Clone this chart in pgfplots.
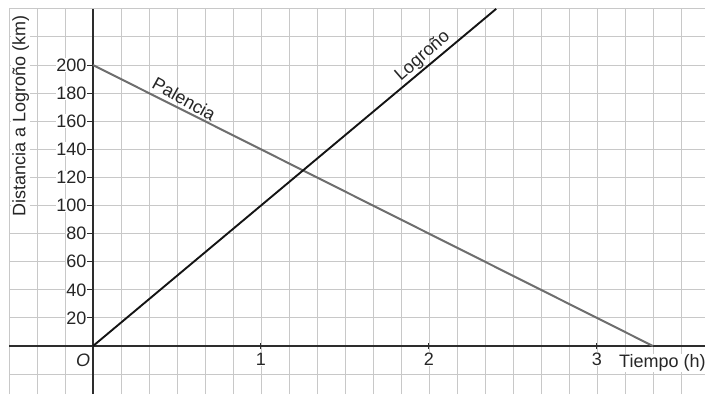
\documentclass[border=0pt]{standalone}
\usepackage{fontspec}
\setmainfont{Liberation Sans}
\usepackage{pgfplots}
\pgfplotsset{compat=1.18}
\definecolor{gridc}{RGB}{200,200,200}
\definecolor{axisc}{RGB}{45,45,45}
\definecolor{logc}{RGB}{20,20,20}
\definecolor{palc}{RGB}{110,110,110}
\newcommand{\lab}{\fontsize{18bp}{21bp}\selectfont}
\begin{document}
\begin{tikzpicture}
\begin{axis}[
    x=168bp, y=1.405bp,
    xmin=-0.5, xmax=3.643,
    ymin=-34.16, ymax=240,
    axis lines=middle,
    axis line style={-, color=axisc, line width=1.3bp},
    xtick={1,2,3},
    ytick={20,40,...,200},
    minor xtick={-0.5,-0.33333,-0.16667,0,0.16667,0.33333,0.5,0.66667,0.83333,1,1.16667,1.33333,1.5,1.66667,1.83333,2,2.16667,2.33333,2.5,2.66667,2.83333,3,3.16667,3.33333,3.5},
    minor ytick={-20,0,20,...,240},
    minor tick length=0pt,
    major tick length=6bp,
    xtick align=center,
    ytick align=outside,
    tick style={color=axisc, line width=1bp},
    grid=both,
    grid style={color=gridc, line width=0.9bp},
    major grid style={color=gridc, line width=0.9bp},
    minor grid style={color=gridc, line width=0.9bp},
    /pgf/number format/assume math mode=true,
    ticklabel style={font=\lab, text=black!85, fill=white, inner sep=0.5bp},
    xticklabel style={yshift=-3bp},
    clip=false,
]
\addplot[color=palc, line width=2bp] coordinates {(0,200) (3.3333,0)};
\addplot[color=logc, line width=1.9bp] coordinates {(0,0) (2.4,240)};

\node[font=\lab, text=black!85, rotate=-29, anchor=south, inner sep=1bp] at (axis cs:0.52,171) {Palencia};
\node[font=\lab, text=black!85, rotate=41, anchor=south, inner sep=1bp] at (axis cs:2.0,201) {Logroño};
\node[font=\lab\itshape, text=black!85, anchor=north east, inner sep=1bp] at (axis cs:-0.01,-5) {O};
\node[font=\lab, text=black!85, anchor=west, fill=white, inner sep=1bp] at (axis cs:3.125,-12) {Tiempo (h)};
\node[font=\lab, text=black!85, rotate=90, fill=white, inner sep=1bp] at (axis cs:-0.43,164) {Distancia a Logroño (km)};

\coordinate (bl) at (axis cs:-0.5536,-34.16);
\coordinate (tr) at (axis cs:3.643,246.3);
\end{axis}
\pgfresetboundingbox
\path (bl) rectangle (tr);
\end{tikzpicture}
\end{document}
